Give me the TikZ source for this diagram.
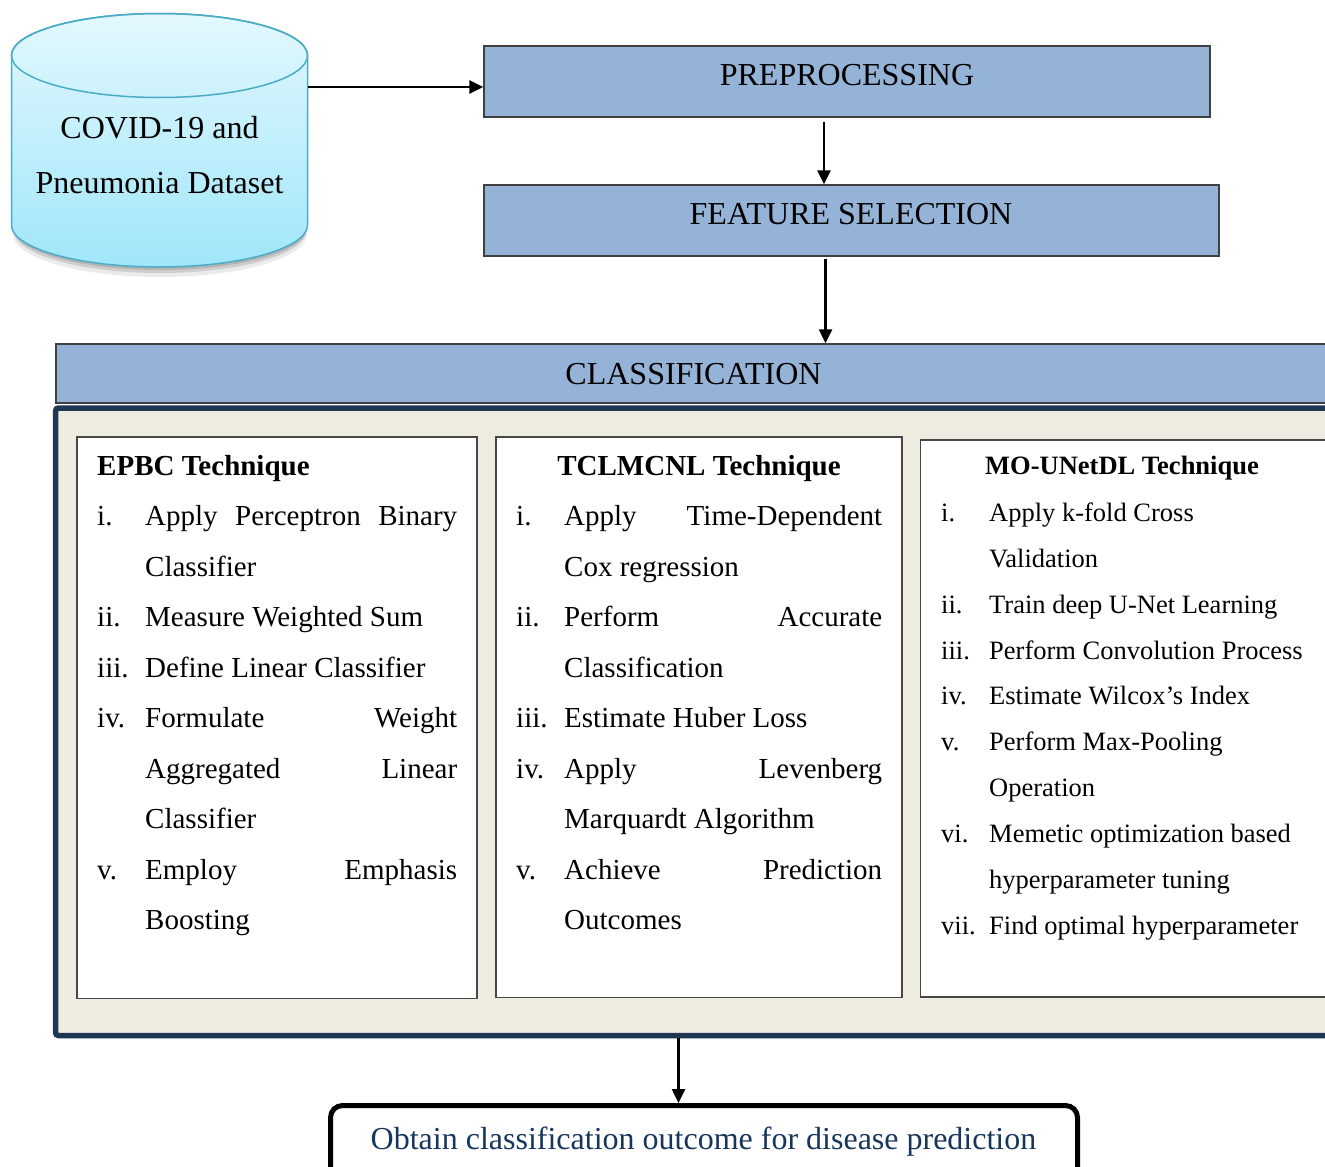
\documentclass[tikz,border=0pt]{standalone}
\usepackage{fontspec}
\setmainfont{Liberation Serif}
\usetikzlibrary{arrows.meta,calc}
\definecolor{boxblue}{HTML}{95B3D7}
\definecolor{contnavy}{HTML}{1F3752}
\definecolor{beigebg}{HTML}{EEECE1}
\definecolor{cylbord}{HTML}{4BACC6}
\definecolor{cyltop}{HTML}{E3F8FE}
\definecolor{cylbot}{HTML}{A0E6FA}
\definecolor{txtnavy}{HTML}{17365D}
\newcommand\myLfont{\fontsize{29pt}{34pt}\selectfont}
\newcommand\mySfont{\fontsize{26.5pt}{31pt}\selectfont}
\newcommand\myHfont{\fontsize{32pt}{38pt}\selectfont}
\begin{document}
\begin{tikzpicture}[x=1pt,y=-1pt,
  bluebox/.style={draw=black!75, line width=1.3pt, fill=boxblue, inner sep=0pt},
  innerbox/.style={draw=black!72, line width=1.5pt, fill=white, inner sep=0pt},
  arr/.style={line width=2.5pt, -{Triangle[length=14pt,width=13pt]}},
  lt/.style={anchor=base west, inner sep=0pt, font=\myLfont},
  st/.style={anchor=base west, inner sep=0pt, font=\mySfont},
  ht/.style={anchor=base, inner sep=0pt, font=\myHfont}]
\useasboundingbox (0,0) rectangle (1325,1167);
\fill[white] (0,0) rectangle (1325,1167);
\clip (0,0) rectangle (1325,1167);

% ---------- database cylinder ----------
\node[inner sep=0pt, minimum width=296pt, minimum height=254pt] (db) at (159.5,140) {};
\fill[black, opacity=0.08] (160,234) ellipse[x radius=147, y radius=43];
\fill[black, opacity=0.12] (160,231) ellipse[x radius=146, y radius=42];
\fill[black, opacity=0.12] (160,228) ellipse[x radius=147, y radius=42];
\path[top color=cyltop, bottom color=cylbot, draw=cylbord, line width=1.5pt]
  (11.5,55.5) -- (11.5,225) arc[start angle=180, end angle=0, x radius=148, y radius=42]
  -- (307.5,55.5) arc[start angle=0, end angle=-180, x radius=148, y radius=42] -- cycle;
\draw[cylbord, line width=1.5pt] (159.5,55.5) ellipse[x radius=148, y radius=42];
\node[ht] (dbt1) at (159.5,138) {COVID-19 and};
\node[ht] (dbt2) at (159.5,193) {Pneumonia Dataset};

% ---------- top boxes ----------
\node[bluebox, minimum width=726pt, minimum height=71pt] (pre) at (847,81.5) {};
\node[ht] (pret) at (847,85) {PREPROCESSING};
\node[bluebox, minimum width=735pt, minimum height=71pt] (fs) at (851.5,220.5) {};
\node[ht] (fst) at (851,224) {FEATURE SELECTION};

% ---------- container ----------
\node[draw=contnavy, line width=5.5pt, fill=beigebg, rounded corners=3pt, inner sep=0pt,
      minimum width=1289.5pt, minimum height=627.5pt] (cont) at (700.25,721.75) {};
\node[draw=black!75, line width=1.5pt, fill=boxblue, inner sep=0pt,
      minimum width=1289pt, minimum height=59pt] (cls) at (700.5,373.5) {};
\node[ht] (clst) at (693.5,384) {CLASSIFICATION};

% ---------- inner boxes ----------
\node[innerbox, minimum width=400pt, minimum height=561.5pt] (b1) at (277,717.75) {};
\node[innerbox, minimum width=406pt, minimum height=560.5pt] (b2) at (699,717.25) {};
\node[innerbox, minimum width=424.5pt, minimum height=557pt] (b3) at (1132.75,718.5) {};

% box 1
\node[lt, font=\myLfont\bfseries] (b1t) at (97,475) {EPBC Technique};
\node[lt] (b1n1) at (97,525.5) {i.};
\node[lt] (b1l1) at (145,525.5) {\hbox to 312pt{Apply\hfill Perceptron\hfill Binary}};
\node[lt] (b1l2) at (145,576) {Classifier};
\node[lt] (b1n2) at (97,626.5) {ii.};
\node[lt] (b1l3) at (145,626.5) {Measure Weighted Sum};
\node[lt] (b1n3) at (97,677) {iii.};
\node[lt] (b1l4) at (145,677) {Define Linear Classifier};
\node[lt] (b1n4) at (97,727.5) {iv.};
\node[lt] (b1l5) at (145,727.5) {\hbox to 312pt{Formulate\hfill Weight}};
\node[lt] (b1l6) at (145,778) {\hbox to 312pt{Aggregated\hfill Linear}};
\node[lt] (b1l7) at (145,828.5) {Classifier};
\node[lt] (b1n5) at (97,879) {v.};
\node[lt] (b1l8) at (145,879) {\hbox to 312pt{Employ\hfill Emphasis}};
\node[lt] (b1l9) at (145,929.5) {Boosting};

% box 2
\node[anchor=base, inner sep=0pt, font=\myLfont\bfseries] (b2t) at (699,475) {TCLMCNL Technique};
\node[lt] (b2n1) at (516,525.5) {i.};
\node[lt] (b2l1) at (564,525.5) {\hbox to 318pt{Apply\hfill Time-Dependent}};
\node[lt] (b2l2) at (564,576) {Cox regression};
\node[lt] (b2n2) at (516,626.5) {ii.};
\node[lt] (b2l3) at (564,626.5) {\hbox to 318pt{Perform\hfill Accurate}};
\node[lt] (b2l4) at (564,677) {Classification};
\node[lt] (b2n3) at (516,727.5) {iii.};
\node[lt] (b2l5) at (564,727.5) {Estimate Huber Loss};
\node[lt] (b2n4) at (516,778) {iv.};
\node[lt] (b2l6) at (564,778) {\hbox to 318pt{Apply\hfill Levenberg}};
\node[lt] (b2l7) at (564,828.5) {Marquardt Algorithm};
\node[lt] (b2n5) at (516,879) {v.};
\node[lt] (b2l8) at (564,879) {\hbox to 318pt{Achieve\hfill Prediction}};
\node[lt] (b2l9) at (564,929.5) {Outcomes};

% box 3
\node[st, font=\mySfont\bfseries] (b3t) at (985,474) {MO-UNetDL Technique};
\node[st] (b3n1) at (941,521) {i.};
\node[st] (b3l1) at (989,521) {Apply k-fold Cross};
\node[st] (b3l2) at (989,567) {Validation};
\node[st] (b3n2) at (941,613) {ii.};
\node[st] (b3l3) at (989,613) {Train deep U-Net Learning};
\node[st] (b3n3) at (941,659) {iii.};
\node[st] (b3l4) at (989,659) {Perform Convolution Process};
\node[st] (b3n4) at (941,704.5) {iv.};
\node[st] (b3l5) at (989,704.5) {Estimate Wilcox’s Index};
\node[st] (b3n5) at (941,750.5) {v.};
\node[st] (b3l6) at (989,750.5) {Perform Max-Pooling};
\node[st] (b3l7) at (989,796.5) {Operation};
\node[st] (b3n6) at (941,842) {vi.};
\node[st] (b3l8) at (989,842) {Memetic optimization based};
\node[st] (b3l9) at (989,888) {hyperparameter tuning};
\node[st] (b3n7) at (941,934) {vii.};
\node[st] (b3l10) at (989,934) {Find optimal hyperparameter};

% ---------- output box ----------
\node[draw=black, line width=5pt, fill=white, rounded corners=12pt, inner sep=0pt,
      minimum width=747pt, minimum height=84.5pt] (outb) at (704,1147.75) {};
\node[ht, text=txtnavy] (outt) at (703.5,1149.5) {Obtain classification outcome for disease prediction};

% ---------- connectors ----------
\coordinate (pw) at ([yshift=-5.5pt]pre.west);
\draw[arr] (db.east |- pw) -- (pw);
\coordinate (c1) at ([xshift=-23pt,yshift=-4pt]pre.south);
\draw[arr] (c1) -- (c1 |- fs.north);
\coordinate (c2) at ([xshift=-26pt,yshift=-2pt]fs.south);
\draw[arr] (c2) -- (c2 |- cls.north);
\coordinate (c3) at (678.5,1038);
\draw[arr] (c3) -- (c3 |- outb.north);
\end{tikzpicture}
\end{document}
